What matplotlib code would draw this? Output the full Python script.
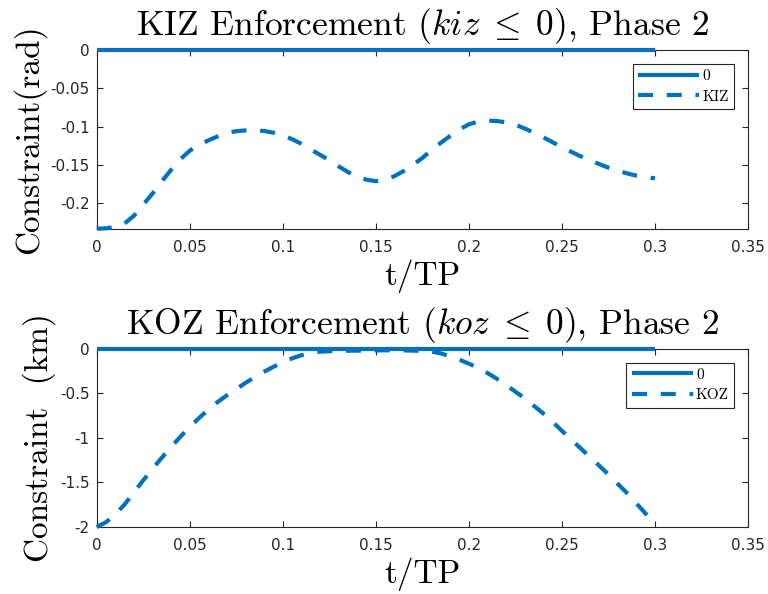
import matplotlib
matplotlib.use("Agg")
from matplotlib import pyplot as plt

plt.rcParams['mathtext.fontset'] = 'cm'
plt.rcParams['axes.unicode_minus'] = False
plt.rcParams['font.family'] = ['DejaVu Sans']

# Data (t every 0.005)
t = [0.000, 0.005, 0.010, 0.015, 0.020, 0.025, 0.030, 0.035, 0.040, 0.045,
     0.050, 0.055, 0.060, 0.065, 0.070, 0.075, 0.080, 0.085, 0.090, 0.095,
     0.100, 0.105, 0.110, 0.115, 0.120, 0.125, 0.130, 0.135, 0.140, 0.145,
     0.150, 0.155, 0.160, 0.165, 0.170, 0.175, 0.180, 0.185, 0.190, 0.195,
     0.200, 0.205, 0.210, 0.215, 0.220, 0.225, 0.230, 0.235, 0.240, 0.245,
     0.250, 0.255, 0.260, 0.265, 0.270, 0.275, 0.280, 0.285, 0.290, 0.295,
     0.300]
kiz = [-0.2335, -0.2332, -0.2310, -0.2268, -0.2165, -0.2020, -0.1875, -0.1715, -0.1565, -0.1425,
       -0.1315, -0.1240, -0.1180, -0.1128, -0.1085, -0.1060, -0.1050, -0.1048, -0.1058, -0.1080,
       -0.1115, -0.1165, -0.1225, -0.1298, -0.1370, -0.1440, -0.1520, -0.1595, -0.1655, -0.1695,
       -0.1714, -0.1695, -0.1648, -0.1580, -0.1500, -0.1410, -0.1305, -0.1210, -0.1120, -0.1035,
       -0.0970, -0.0935, -0.0922, -0.0927, -0.0945, -0.0975, -0.1025, -0.1080, -0.1140, -0.1205,
       -0.1268, -0.1330, -0.1388, -0.1443, -0.1490, -0.1538, -0.1578, -0.1612, -0.1642, -0.1662,
       -0.1677]
koz = [-2.000, -1.945, -1.860, -1.745, -1.610, -1.475, -1.345, -1.220, -1.100, -0.985,
       -0.875, -0.775, -0.680, -0.595, -0.520, -0.450, -0.380, -0.315, -0.255, -0.200,
       -0.150, -0.105, -0.070, -0.045, -0.030, -0.025, -0.022, -0.020, -0.019, -0.017,
       -0.016, -0.015, -0.015, -0.016, -0.019, -0.022, -0.030, -0.050, -0.084, -0.122,
       -0.165, -0.215, -0.270, -0.335, -0.405, -0.480, -0.555, -0.640, -0.725, -0.820,
       -0.920, -1.020, -1.115, -1.215, -1.310, -1.410, -1.515, -1.620, -1.735, -1.850,
       -1.970]
zero_t = [0.0, 0.3]
zero_v = [0.0, 0.0]

x_ticks = [0, 0.05, 0.1, 0.15, 0.2, 0.25, 0.3, 0.35]
x_labels = ['0', '0.05', '0.1', '0.15', '0.2', '0.25', '0.3', '0.35']
kiz_ticks = [-0.2, -0.15, -0.1, -0.05, 0]
kiz_labels = ['-0.2', '-0.15', '-0.1', '-0.05', '0']
koz_ticks = [-2, -1.5, -1, -0.5, 0]
koz_labels = ['-2', '-1.5', '-1', '-0.5', '0']

blue = '#0072BD'
edge = '#262626'
serif = 'cmr10'

fig = plt.figure(figsize=(7.68, 5.94), dpi=100)
ax1 = fig.add_axes([0.126, 0.6145, 0.848, 0.301])
ax2 = fig.add_axes([0.126, 0.1128, 0.848, 0.2997])

panels = [
    (ax1, kiz, 'KIZ', (-0.234, 0), kiz_ticks, kiz_labels,
     r'KIZ Enforcement $(kiz\;\leq\;0)$, Phase 2', 'Constraint(rad)'),
    (ax2, koz, 'KOZ', (-2, 0), koz_ticks, koz_labels,
     r'KOZ Enforcement $(koz\;\leq\;0)$, Phase 2', 'Constraint  (km)'),
]

for ax, vals, name, ylim, yt, yl, title, ylabel in panels:
    ax.plot(zero_t, zero_v, color=blue, lw=3.0, label='0',
            clip_on=False, solid_capstyle='butt', zorder=3)
    ax.plot(t, vals, color=blue, lw=3.0, ls=(0, (3.6, 3.3)), label=name,
            clip_on=False, zorder=3)
    ax.set_xlim(0, 0.35)
    ax.set_ylim(*ylim)
    ax.set_xticks(x_ticks)
    ax.set_xticklabels(x_labels)
    ax.set_yticks(yt)
    ax.set_yticklabels(yl)
    ax.tick_params(direction='in', length=4, width=0.8, colors=edge,
                   labelsize=11, top=True, right=True, pad=5)
    ax.tick_params(axis='x', pad=8)
    for s in ax.spines.values():
        s.set_color(edge)
        s.set_linewidth(0.8)
    ax.set_title(title, fontsize=25.5, pad=11, color='black', family=serif)
    ax.set_xlabel('t/TP', fontsize=24, labelpad=3, family=serif)
    ax.set_ylabel(ylabel, fontsize=24, labelpad=3, family=serif)
    leg = ax.legend(loc='upper right', handlelength=4.0,
                    prop={'family': serif, 'size': 11},
                    frameon=True, fancybox=False, framealpha=1,
                    borderaxespad=0.9, handletextpad=0.2, labelspacing=0.45,
                    borderpad=0.35)
    leg.get_frame().set_edgecolor(edge)
    leg.get_frame().set_linewidth(0.8)

fig.savefig('out.png', dpi=100)
